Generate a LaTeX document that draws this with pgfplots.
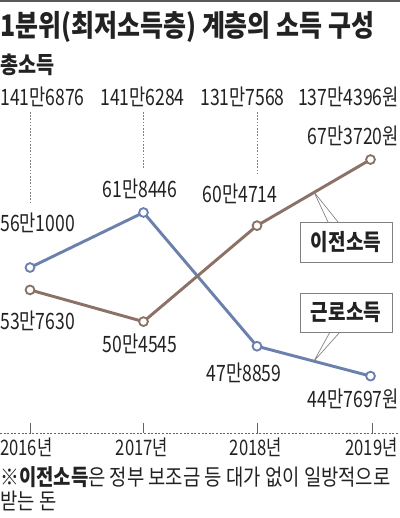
\documentclass[border=0pt]{standalone}
\usepackage{fontspec}
\usepackage{pgfplots}
\pgfplotsset{compat=1.18}
\setmainfont{Noto Sans CJK KR}[FakeStretch=0.84]
\newfontfamily\numfont{Noto Sans CJK KR}[FakeStretch=0.78]
\definecolor{work}{HTML}{6B80AC}
\definecolor{trans}{HTML}{8C7166}
\definecolor{ink}{HTML}{222222}
\definecolor{guide}{HTML}{808080}

\begin{document}
\begin{tikzpicture}
\useasboundingbox (0,0) rectangle (300pt,388.5pt);
\begin{axis}[at={(0,0)}, anchor=south west,
  width=300pt, height=388.5pt, scale only axis, hide axis, clip=false,
  xmin=2015.7357, xmax=2019.2599, ymin=29.956, ymax=84.027]
% 근로소득 (만원)
\addplot[work, line width=2.2pt, mark=*, mark size=3.3pt,
  mark options={fill=white, draw=work, line width=1.4pt}]
  coordinates {(2016,56.1) (2017,61.8446) (2018,47.8859) (2019,44.7697)};
% 이전소득 (만원)
\addplot[trans, line width=2.2pt, mark=*, mark size=3.3pt,
  mark options={fill=white, draw=trans, line width=1.4pt}]
  coordinates {(2016,53.763) (2017,50.4545) (2018,60.4714) (2019,67.372)};
\end{axis}
% pixel grid: x right, y down, 400 x 518
\begin{scope}[shift={(0,388.5pt)}, x=0.75pt, y=-0.75pt]
\fill[ink!75] (0,0) rectangle (400,2);
\node[anchor=base west, inner sep=0, text=ink, font=\bfseries\fontsize{22.3}{25}\selectfont] at (0,37) {1분위(최저소득층) 계층의 소득 구성};
\node[anchor=base west, inner sep=0, text=ink, font=\bfseries\fontsize{17.5}{20}\selectfont] at (0,74) {총소득};
\begin{scope}[every node/.style={inner sep=0, text=ink, font=\numfont\fontsize{16.9}{19}\selectfont}]
\node[anchor=base west] at (0,106) {141만6876};
\node[anchor=base west] at (100,106) {141만6284};
\node[anchor=base west] at (200,106) {131만7568};
\node[anchor=base east] at (399,106) {137만4396원};
\node[anchor=base west] at (0,232) {56만1000};
\node[anchor=base] at (140,198) {61만8446};
\node[anchor=base] at (240,203) {60만4714};
\node[anchor=base east] at (399,145) {67만3720원};
\node[anchor=base west] at (0,330) {53만7630};
\node[anchor=base] at (140,353) {50만4545};
\node[anchor=base] at (244,382) {47만8859};
\node[anchor=base east] at (399,408) {44만7697원};
\end{scope}
\begin{scope}[guide, line width=0.5pt, dash pattern=on 1.2pt off 1.2pt]
\draw (30,112) -- (30,202);
\draw (143,112) -- (143,168);
\draw (257,112) -- (257,175);
\end{scope}
% legend boxes with leaders
\draw[guide, line width=0.5pt] (314,192) -- (328,222) (314,192) -- (338,222);
\draw[guide, line width=0.6pt, fill=white] (300,222) rectangle (392,262);
\node[inner sep=0, text=ink, font=\bfseries\fontsize{17}{19}\selectfont] at (346,242) {이전소득};
\draw[guide, line width=0.5pt] (314,361) -- (330,332) (314,361) -- (340,332);
\draw[guide, line width=0.6pt, fill=white] (300,293) rectangle (392,332);
\node[inner sep=0, text=ink, font=\bfseries\fontsize{17}{19}\selectfont] at (346,312.5) {근로소득};
% base line and year ticks
\draw[ink!70, line width=0.6pt, dash pattern=on 1.5pt off 1.2pt] (0,433) -- (400,433);
\draw[ink!70, line width=0.6pt] (30,423) -- (30,433) (143,423) -- (143,433) (257,423) -- (257,433) (372,423) -- (372,433);
\begin{scope}[every node/.style={inner sep=0, text=ink, font=\numfont\fontsize{16}{18}\selectfont}]
\node[anchor=base west] at (0,456) {2016년};
\node[anchor=base] at (142,456) {2017년};
\node[anchor=base] at (256,456) {2018년};
\node[anchor=base east] at (398,456) {2019년};
\end{scope}
\node[anchor=base west, inner sep=0, text=ink, font=\fontsize{16.8}{19}\selectfont] at (0,486) {※\textbf{이전소득}은 정부 보조금 등 대가 없이 일방적으로};
\node[anchor=base west, inner sep=0, text=ink, font=\fontsize{16.8}{19}\selectfont] at (0,510) {받는 돈};
\end{scope}
\end{tikzpicture}
\end{document}
